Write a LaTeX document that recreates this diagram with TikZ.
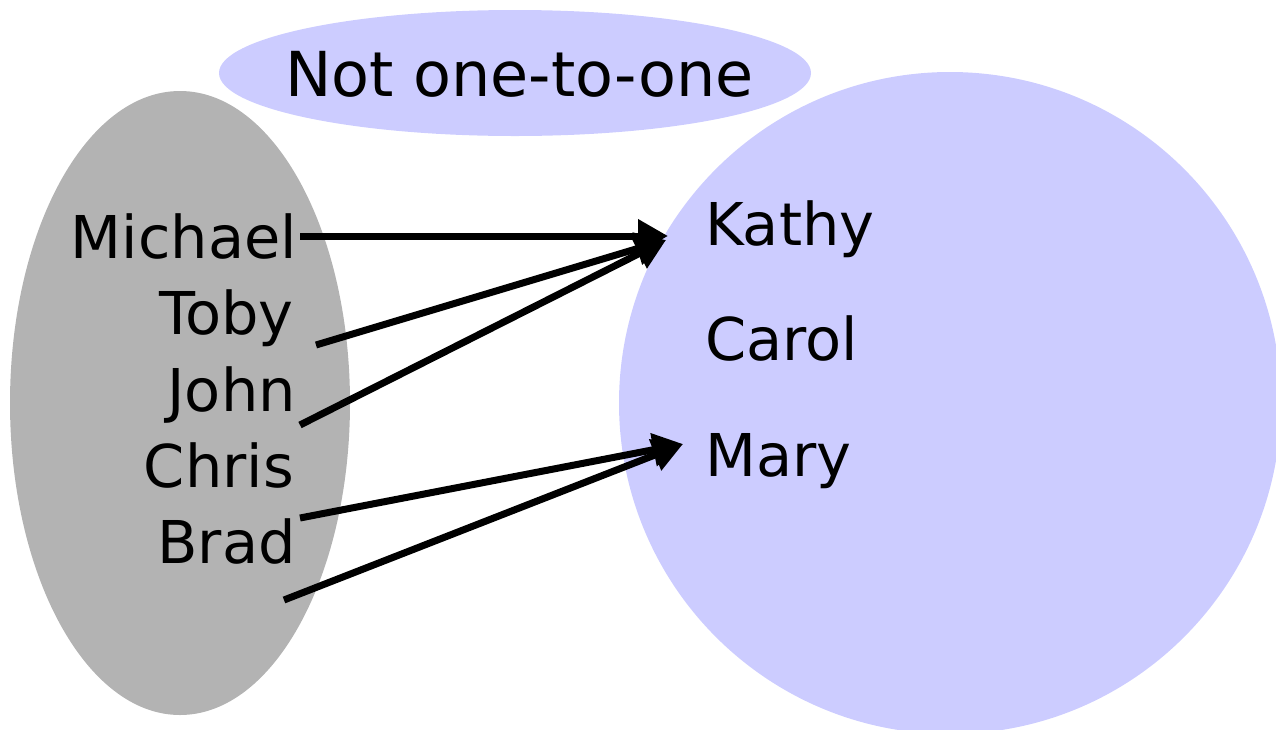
\documentclass[tikz,border=0pt]{standalone}
\usepackage{fontspec}
\setmainfont{DejaVu Sans}
\usetikzlibrary{arrows.meta}
\definecolor{setgray}{RGB}{179,179,179}
\definecolor{setblue}{RGB}{204,204,255}
\tikzset{
  setlabel/.style={font=\fontsize{59}{61}\selectfont, inner sep=0pt},
  leftname/.style={setlabel, anchor=base east},
  rightname/.style={setlabel, anchor=base west},
  maparrow/.style={line width=7pt, -{Triangle[length=30pt,width=32pt]}}
}
\begin{document}
\begin{tikzpicture}[x=1pt,y=-1pt]
  \clip (0,0) rectangle (1276,729);
  \useasboundingbox (0,0) rectangle (1276,729);
  % the two sets and the title bubble
  \fill[setgray] (180,403) ellipse [x radius=170, y radius=312];
  \fill[setblue] (950,403) circle [radius=331];
  \fill[setblue] (515,73) ellipse [x radius=296, y radius=63];
  \node[setlabel, font=\fontsize{62}{64}\selectfont, anchor=base west] (title) at (285,96) {Not one-to-one};
  % domain
  \node[leftname] (michael) at (297,258) {Michael};
  \node[leftname] (toby)    at (294,334) {Toby};
  \node[leftname] (john)    at (296,411) {John};
  \node[leftname] (chris)   at (294,487) {Chris};
  \node[leftname] (brad)    at (296,563) {Brad};
  % codomain
  \node[rightname] (kathy) at (705,245) {Kathy};
  \node[rightname] (carol) at (705,360) {Carol};
  \node[rightname] (mary)  at (705,476) {Mary};
  % arrow ends
  \coordinate (m0) at (300,236);
  \coordinate (t0) at (316,345);
  \coordinate (j0) at (300,425);
  \coordinate (c0) at (300,518);
  \coordinate (b0) at (284,600);
  \coordinate (kin) at (668,236);
  \coordinate (kin2) at (666,240);
  \coordinate (min) at (683,444);
  \draw[maparrow] (m0) -- (kin);
  \draw[maparrow] (t0) -- (kin2);
  \draw[maparrow] (j0) -- (kin2);
  \draw[maparrow] (c0) -- (min);
  \draw[maparrow] (b0) -- (min);
\end{tikzpicture}
\end{document}
